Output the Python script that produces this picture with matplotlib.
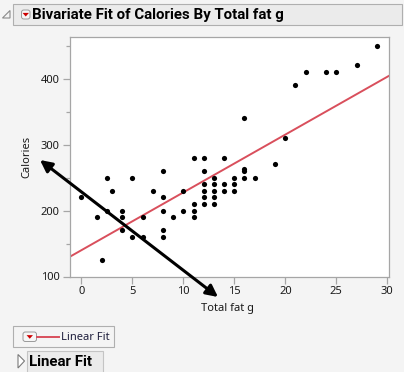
import matplotlib
matplotlib.use('Agg')
import matplotlib.pyplot as plt
from matplotlib.patches import Rectangle, Polygon, FancyBboxPatch, FancyArrowPatch
import numpy as np

plt.rcParams['font.family'] = ['Noto Sans', 'DejaVu Sans']

# data: total fat (g) and calories
fat = [29, 27, 22, 24, 25, 21, 16, 20, 19,
       11, 12, 14,
       8, 12, 16, 16,
       2.5, 5, 13, 15, 16, 17,
       12, 13, 14, 15,
       3, 7, 10, 12, 13, 14, 15,
       0, 8, 12, 13,
       11, 12, 13,
       2.5, 4, 8, 10, 11,
       1.5, 4, 6, 9, 11,
       4, 8,
       5, 6, 8,
       2]
calories = [450, 420, 410, 410, 410, 390, 340, 310, 270,
            280, 280, 280,
            260, 260, 260, 263,
            250, 250, 250, 250, 250, 250,
            240, 240, 240, 240,
            230, 230, 230, 230, 230, 230, 230,
            220, 220, 220, 220,
            210, 210, 210,
            200, 200, 200, 200, 200,
            190, 190, 190, 190, 190,
            170, 170,
            160, 160, 160,
            125]
# linear fit as shown in the report
fit_intercept = 139.8
fit_slope = 8.76
x_ticks = [0, 5, 10, 15, 20, 25, 30]
y_ticks = [100, 200, 300, 400]

W, H = 404, 372
BG = '#F4F4F4'
RED = '#D94F5C'
GRAY = '#A6A6A6'
BOLD = ['Roboto', 'DejaVu Sans']

fig = plt.figure(figsize=(W / 100, H / 100), dpi=100, facecolor=BG)

def fx(x):
    return x / W

def fy(y):
    return 1 - y / H

# header bar
fig.add_artist(Rectangle((fx(13), fy(25)), fx(389), 21 / H, facecolor='#EBEBEB',
                         edgecolor='#AFAFAF', lw=0.8, transform=fig.transFigure))
fig.add_artist(Polygon([(fx(2.5), fy(18)), (fx(10), fy(18)), (fx(10), fy(10.5))], closed=True,
                       facecolor='none', edgecolor='#8A8A8A', lw=0.8, transform=fig.transFigure))

def red_button(x0, y0, w, h):
    fig.add_artist(FancyBboxPatch((fx(x0), fy(y0 + h)), w / W, h / H,
                                  boxstyle='round,pad=0,rounding_size=0.006',
                                  facecolor='#F6F6F6', edgecolor='#9A9A9A', lw=0.7,
                                  transform=fig.transFigure))
    cx, cy = x0 + w / 2, y0 + h / 2
    fig.add_artist(Polygon([(fx(cx - 3.2), fy(cy - 1.6)), (fx(cx + 3.2), fy(cy - 1.6)),
                            (fx(cx), fy(cy + 2))], closed=True,
                           facecolor='#CC0000', edgecolor='none', transform=fig.transFigure))

red_button(21.5, 10, 8.5, 9)
fig.text(fx(32.5), fy(15), 'Bivariate Fit of Calories By Total fat g', fontsize=10.8,
         fontweight='bold', family=BOLD, va='center', ha='left', color='black')

# plot area
ax = fig.add_axes([fx(69.5), fy(276.5), (389 - 69.5) / W, (276.5 - 37) / H])
ax.set_facecolor('white')
for s in ax.spines.values():
    s.set_color(GRAY)
    s.set_linewidth(0.9)

ax.scatter(fat, calories, s=14, color='black', zorder=3, linewidths=0)

xs = np.array([-1.2, 30.3])
ax.plot(xs, fit_intercept + fit_slope * xs, color=RED, lw=1.4, zorder=2)

ax.set_xlim(-1.16, 30.17)
ax.set_ylim(100, 462.9)
ax.set_xticks(x_ticks)
ax.set_yticks(y_ticks)
ax.set_yticks([150, 250, 350, 450], minor=True)
ax.tick_params(axis='both', which='major', length=5, width=0.9, color=GRAY,
               labelsize=8, labelcolor='#1A1A1A', pad=2)
ax.tick_params(axis='y', which='minor', length=3, width=0.9, color=GRAY)

fig.text(fx(228), fy(308), 'Total fat g', fontsize=8, ha='center', va='center', color='#1A1A1A')
fig.text(fx(27), fy(157), 'Calories', fontsize=8, rotation=90, ha='center', va='center',
         color='#1A1A1A')

# double headed arrow
fig.add_artist(FancyArrowPatch((fx(40), fy(160)), (fx(218), fy(297)),
                               arrowstyle='<|-|>,head_length=7,head_width=3.5',
                               color='black', lw=2.2, transform=fig.transFigure,
                               shrinkA=0, shrinkB=0))

# legend box
fig.add_artist(Rectangle((fx(13), fy(347)), 101 / W, 21 / H, facecolor=BG,
                         edgecolor='#AFAFAF', lw=0.8, transform=fig.transFigure))
red_button(23, 332, 13.5, 9.5)
fig.add_artist(plt.Line2D([fx(37), fx(59)], [fy(337), fy(337)], color=RED, lw=1.4,
                          transform=fig.transFigure))
fig.text(fx(61), fy(337.5), 'Linear Fit', fontsize=8, ha='left', va='center', color='#1E1E3C')

# Linear Fit outline header
fig.add_artist(Rectangle((fx(27), fy(373)), 76 / W, 22 / H, facecolor='#EBEBEB',
                         edgecolor='#C4C4C4', lw=0.8, transform=fig.transFigure))
fig.add_artist(Polygon([(fx(18), fy(354.5)), (fx(18), fy(368)), (fx(24.5), fy(361))], closed=True,
                       facecolor='white', edgecolor='#7A7A7A', lw=0.8, transform=fig.transFigure))
fig.text(fx(29), fy(361.5), 'Linear Fit', fontsize=10.8, fontweight='bold', family=BOLD,
         ha='left', va='center', color='black')

fig.savefig('out.png', dpi=100, facecolor=BG)
